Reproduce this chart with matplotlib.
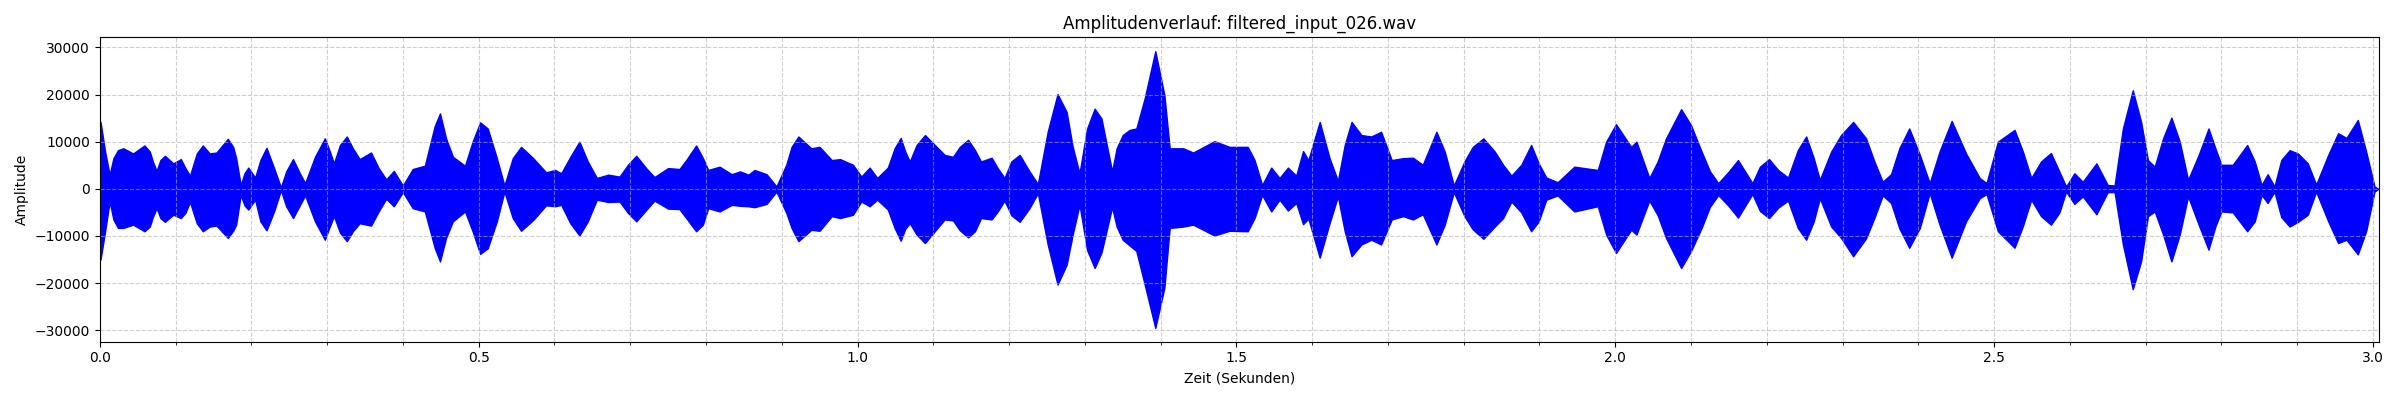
import matplotlib
matplotlib.use("Agg")
import matplotlib.pyplot as plt
from matplotlib.ticker import MultipleLocator

# Envelope of the waveform (time in s, amplitude)
ENV_T = [
    0.000, 0.001, 0.007, 0.013, 0.018, 0.024, 0.031, 0.044, 0.059, 0.066,
    0.070, 0.075, 0.080, 0.086, 0.097, 0.107, 0.113, 0.119, 0.128, 0.136,
    0.145, 0.154, 0.169, 0.176, 0.180, 0.186, 0.191, 0.196, 0.205, 0.212,
    0.220, 0.230, 0.239, 0.246, 0.255, 0.264, 0.271, 0.284, 0.297, 0.303,
    0.309, 0.317, 0.326, 0.334, 0.343, 0.358, 0.368, 0.378, 0.388, 0.400,
    0.413, 0.429, 0.442, 0.449, 0.457, 0.466, 0.482, 0.492, 0.502, 0.512,
    0.524, 0.534, 0.545, 0.556, 0.572, 0.589, 0.601, 0.609, 0.621, 0.633,
    0.644, 0.656, 0.671, 0.686, 0.697, 0.708, 0.721, 0.732, 0.750, 0.765,
    0.774, 0.787, 0.796, 0.803, 0.818, 0.834, 0.845, 0.856, 0.864, 0.880,
    0.893, 0.906, 0.913, 0.922, 0.939, 0.950, 0.966, 0.977, 0.994, 1.005,
    1.016, 1.026, 1.040, 1.049, 1.057, 1.063, 1.069, 1.078, 1.089, 1.102,
    1.115, 1.126, 1.135, 1.146, 1.155, 1.163, 1.177, 1.185, 1.194, 1.203,
    1.214, 1.227, 1.238, 1.251, 1.264, 1.276, 1.284, 1.293, 1.303, 1.313,
    1.322, 1.336, 1.342, 1.350, 1.359, 1.368, 1.379, 1.393, 1.405, 1.412,
    1.430, 1.443, 1.471, 1.491, 1.515, 1.524, 1.534, 1.546, 1.557, 1.568,
    1.579, 1.588, 1.595, 1.610, 1.623, 1.634, 1.643, 1.652, 1.665, 1.678,
    1.691, 1.705, 1.720, 1.733, 1.746, 1.764, 1.775, 1.787, 1.801, 1.812,
    1.826, 1.841, 1.852, 1.863, 1.876, 1.889, 1.899, 1.909, 1.924, 1.946,
    1.977, 1.988, 2.001, 2.021, 2.028, 2.045, 2.056, 2.067, 2.087, 2.100,
    2.114, 2.125, 2.136, 2.150, 2.162, 2.181, 2.191, 2.203, 2.215, 2.228,
    2.241, 2.252, 2.262, 2.270, 2.285, 2.298, 2.314, 2.331, 2.342, 2.353,
    2.364, 2.375, 2.388, 2.402, 2.415, 2.428, 2.444, 2.463, 2.481, 2.490,
    2.505, 2.527, 2.538, 2.549, 2.562, 2.575, 2.586, 2.595, 2.606, 2.617,
    2.635, 2.650, 2.659, 2.670, 2.683, 2.694, 2.703, 2.712, 2.723, 2.734,
    2.745, 2.756, 2.770, 2.783, 2.792, 2.800, 2.815, 2.834, 2.844, 2.853,
    2.861, 2.870, 2.879, 2.890, 2.901, 2.914, 2.925, 2.941, 2.954, 2.965,
    2.980, 2.991, 3.002, 3.007,
]
ENV_UPPER = [
    14200, 14200, 7900, 3000, 6500, 8200, 8600, 7500, 9200, 7900,
    5800, 3800, 6100, 7000, 5400, 6300, 4400, 2800, 7500, 9200,
    7500, 7700, 10600, 8900, 6500, 800, 3300, 4500, 2400, 6100,
    8700, 4400, 300, 3700, 6300, 3300, 1200, 6800, 10700, 8200,
    5400, 9300, 11100, 8600, 6300, 7700, 4400, 2000, 3800, 700,
    4200, 4900, 13300, 16000, 10700, 6800, 4900, 10000, 14100, 12800,
    6500, 700, 6500, 8900, 6500, 3500, 4000, 3300, 6800, 10000,
    5800, 2300, 3000, 2600, 5100, 7000, 4400, 2500, 4400, 4200,
    6100, 9200, 6500, 4000, 4700, 3100, 3700, 3000, 4000, 3100,
    500, 5100, 8900, 11100, 8600, 8900, 6100, 6300, 5100, 2600,
    4500, 2300, 4500, 8600, 10800, 7900, 5800, 9300, 11400, 9300,
    7200, 6800, 8900, 10400, 8200, 5800, 6600, 4400, 2300, 5800,
    7200, 3700, 1000, 12100, 20100, 16300, 8900, 3300, 12800, 17000,
    14900, 3700, 8600, 11400, 12500, 12800, 19200, 29200, 19900, 8600,
    8600, 7700, 10100, 8900, 8900, 6100, 800, 4500, 2300, 4500,
    2800, 8000, 6100, 14200, 6500, 1700, 9300, 14200, 11400, 11100,
    12100, 6100, 6500, 6600, 5100, 12100, 7900, 700, 5800, 8900,
    10700, 7900, 5100, 2800, 5100, 9300, 5400, 2400, 1400, 4700,
    4000, 10000, 13700, 8900, 10000, 2300, 5800, 10700, 16900, 13500,
    7900, 3700, 1200, 3700, 6100, 1200, 4700, 6300, 4000, 2400,
    8200, 11100, 6500, 1900, 7900, 11400, 14200, 10700, 5800, 1500,
    3100, 8600, 12800, 7200, 1200, 7900, 14400, 7500, 2300, 1200,
    10000, 12500, 7900, 2300, 5800, 7600, 3700, 500, 3300, 1500,
    5400, 800, 700, 12800, 20900, 14200, 6100, 4700, 10700, 15100,
    10000, 1900, 7200, 12800, 8600, 5100, 5100, 9300, 5800, 800,
    3100, 500, 6100, 8200, 7500, 5400, 900, 7200, 11800, 10800,
    14600, 7900, 500, 0,
]
ENV_LOWER = [
    -15000, -15000, -9000, -2700, -6500, -8300, -8300, -7600, -9000, -8000,
    -6000, -4100, -6200, -7000, -5500, -6200, -5100, -2800, -7300, -9000,
    -8000, -7800, -10400, -8900, -7600, -1300, -3500, -4400, -2300, -6900,
    -8800, -4800, -300, -3700, -6200, -3500, -1400, -6900, -10800, -8200,
    -5800, -9300, -11100, -9000, -7300, -7800, -4800, -2100, -3700, -700,
    -4100, -4800, -12500, -15400, -10400, -6900, -4800, -9000, -13800, -12600,
    -6900, -600, -6200, -8900, -6600, -3500, -3700, -3400, -7300, -9900,
    -6900, -2300, -2800, -2700, -5100, -6900, -4500, -2500, -4200, -4300,
    -6200, -9000, -7600, -4100, -4800, -3400, -3600, -3700, -3900, -3200,
    -600, -5100, -8300, -11100, -8700, -8900, -5800, -6200, -5500, -2700,
    -3700, -2300, -4400, -8300, -11000, -8500, -7300, -9700, -11500, -9000,
    -6500, -6700, -8800, -10300, -9000, -6200, -6500, -4800, -2500, -5600,
    -7000, -4100, -900, -11800, -20300, -16100, -9700, -3400, -13000, -16800,
    -13500, -3900, -8000, -10800, -12000, -13200, -20300, -29500, -21000, -8300,
    -8000, -7600, -9900, -8900, -9000, -6200, -1300, -4800, -2300, -4600,
    -3000, -7500, -6300, -14600, -7300, -1600, -9000, -14300, -11800, -10800,
    -11800, -6500, -5800, -6500, -5400, -11800, -7600, -700, -5800, -8600,
    -10600, -8000, -6200, -2700, -5000, -9000, -6900, -2300, -1400, -4800,
    -3700, -9700, -13600, -8700, -9700, -2500, -5600, -10400, -16800, -13200,
    -8300, -3800, -1300, -3700, -6100, -1100, -4700, -6200, -4000, -2500,
    -8300, -10800, -6900, -2000, -8000, -10400, -14300, -10500, -6200, -1400,
    -3000, -8400, -12500, -8300, -900, -7600, -14600, -6900, -2000, -1100,
    -9000, -12500, -7900, -2300, -5800, -7600, -5100, -600, -3200, -1600,
    -5400, -700, -700, -11800, -21300, -15400, -5800, -4800, -9700, -15400,
    -9700, -1600, -7600, -12900, -8000, -4800, -5000, -9000, -6900, -1300,
    -3000, -600, -6000, -8000, -7000, -5500, -600, -6900, -11500, -10800,
    -13900, -9000, -600, 0,
]
assert len(ENV_T) == len(ENV_UPPER) == len(ENV_LOWER)
DURATION = 3.008

TITLE = "Amplitudenverlauf: filtered_input_026.wav"

fig, ax = plt.subplots(figsize=(24, 4), dpi=100)
ax.fill_between(ENV_T, ENV_LOWER, ENV_UPPER, color="blue", linewidth=1.0)

ax.set_xlim(0, DURATION)
ax.xaxis.set_major_locator(MultipleLocator(0.5))
ax.xaxis.set_minor_locator(MultipleLocator(0.1))
ax.grid(True, which="both", linestyle="--", alpha=0.6)

ax.set_title(TITLE)
ax.set_xlabel("Zeit (Sekunden)")
ax.set_ylabel("Amplitude")

plt.tight_layout()
fig.savefig("out.png", dpi=100)
